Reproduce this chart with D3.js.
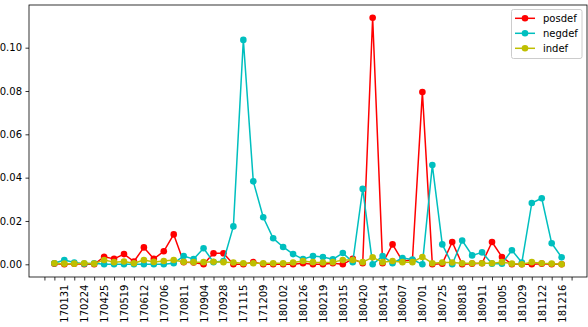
<!DOCTYPE html>
<html><head><meta charset="utf-8">
<script src="https://cdn.jsdelivr.net/npm/d3@7"></script>
<style>body{margin:0;background:#fff}svg{display:block}text{font-family:"DejaVu Sans",sans-serif}</style>
</head><body><svg id="c" width="588" height="327"></svg>
<script>
const tickLabels = ["170131","170224","170425","170519","170612","170706","170811","170904","170928","171115","171209","180102","180126","180219","180315","180420","180514","180607","180701","180725","180818","180911","181005","181029","181122","181216"];
const posdef = [0.0003,0,0.0003,0,0,0.0035,0.0025,0.0047,0.0013,0.0078,0.0025,0.006,0.0138,0.001,0.0008,0,0.0051,0.0051,0,0,0.001,0,0,0,0,0.0005,0,0,0.0005,0,0.0025,0.0005,0.1138,0.0005,0.0092,0.0015,0.002,0.0795,0,0.0003,0.0103,0,0.0003,0.0005,0.0103,0.0034,0,0,0,0.0003,0,0];
const negdef = [0.0005,0.002,0.0008,0.0003,0.0005,0,0,0,0,0,0,0,0.0005,0.0038,0.0024,0.0074,0.001,0.0015,0.0175,0.1036,0.0383,0.0217,0.012,0.008,0.0047,0.0024,0.0038,0.0034,0.0023,0.0052,0.001,0.0348,0,0.0038,0.0005,0.0029,0.0022,0,0.0458,0.0092,0,0.011,0.0041,0.0055,0.0003,0.0003,0.0065,0.0008,0.0283,0.0305,0.0097,0.0032];
const indef = [0.0005,0.0003,0.0003,0.0005,0.0003,0.002,0.001,0.0013,0.0005,0.002,0.0011,0.0015,0.002,0.0011,0.001,0.001,0.0012,0.001,0.0008,0.0005,0.0005,0.0005,0.0005,0.0005,0.0008,0.0015,0.001,0.0008,0.001,0.002,0.002,0.001,0.0032,0.001,0.0015,0.001,0.001,0.0034,0.0005,0.0008,0.0008,0.0005,0.0005,0.0005,0.0005,0.001,0.0003,0,0.001,0.0005,0.0003,0];
const seriesNames = ["posdef","negdef","indef"];
const seriesColors = ["#ff0000","#00bfbf","#bfbf00"];
const yTicks = [0,0.02,0.04,0.06,0.08,0.10];

const svg = d3.select("#c");
const L=29,R=587,T=5,B=277;
const x = d3.scaleLinear().domain([-2.55,53.55]).range([L,R]);
const y = d3.scaleLinear().domain([-0.00586,0.1197]).range([B,T]);

const data=[posdef,negdef,indef];
const line = d3.line().x((d,i)=>x(i)).y(d=>y(d));
data.forEach((s,k)=>{
  const g=svg.append("g");
  g.append("path").attr("d",line(s)).attr("fill","none").attr("stroke",seriesColors[k]).attr("stroke-width",1.5).attr("stroke-linejoin","round");
  g.selectAll("circle").data(s).join("circle").attr("cx",(d,i)=>x(i)).attr("cy",d=>y(d)).attr("r",3.3).attr("fill",seriesColors[k]);
});

// axes
const yAxis = d3.axisLeft(y).tickValues(yTicks).tickFormat(d3.format(".2f")).tickSize(3.5).tickPadding(3.5);
const gy = svg.append("g").attr("transform",`translate(${L},0)`).call(yAxis);
gy.select(".domain").remove();
gy.selectAll("text").attr("font-size",10).attr("fill","#000").attr("font-family","DejaVu Sans");
gy.selectAll("line").attr("stroke","#000").attr("stroke-width",0.8);

const xt = d3.range(-1,53);
const xAxis = d3.axisBottom(x).tickValues(xt).tickFormat(i=> (i>0 && i%2===1) ? tickLabels[(i-1)/2] : "").tickSize(3.5).tickPadding(3.5);
const gx = svg.append("g").attr("transform",`translate(0,${B})`).call(xAxis);
gx.select(".domain").remove();
gx.selectAll("line").attr("stroke","#000").attr("stroke-width",0.8);
gx.selectAll("text").attr("font-size",10).attr("fill","#000").attr("font-family","DejaVu Sans")
  .attr("transform","rotate(-90)").attr("text-anchor","end").attr("x",-7.5).attr("y",0).attr("dy","0.35em");

svg.append("rect").attr("x",L).attr("y",T).attr("width",R-L).attr("height",B-T).attr("fill","none").attr("stroke","#000").attr("stroke-width",0.8);

// legend
const lg = svg.append("g");
lg.append("rect").attr("x",511.5).attr("y",9.5).attr("width",70.5).attr("height",49).attr("rx",2).attr("fill","#fff").attr("fill-opacity",0.8).attr("stroke","#cccccc");
seriesNames.forEach((n,k)=>{
  const yy=18.3+15*k;
  lg.append("line").attr("x1",515).attr("x2",535).attr("y1",yy).attr("y2",yy).attr("stroke",seriesColors[k]).attr("stroke-width",1.5);
  lg.append("circle").attr("cx",525).attr("cy",yy).attr("r",3.3).attr("fill",seriesColors[k]);
  lg.append("text").attr("x",543).attr("y",yy).attr("dy","0.35em").attr("font-size",10).attr("fill","#000").text(n);
});
</script></body></html>
